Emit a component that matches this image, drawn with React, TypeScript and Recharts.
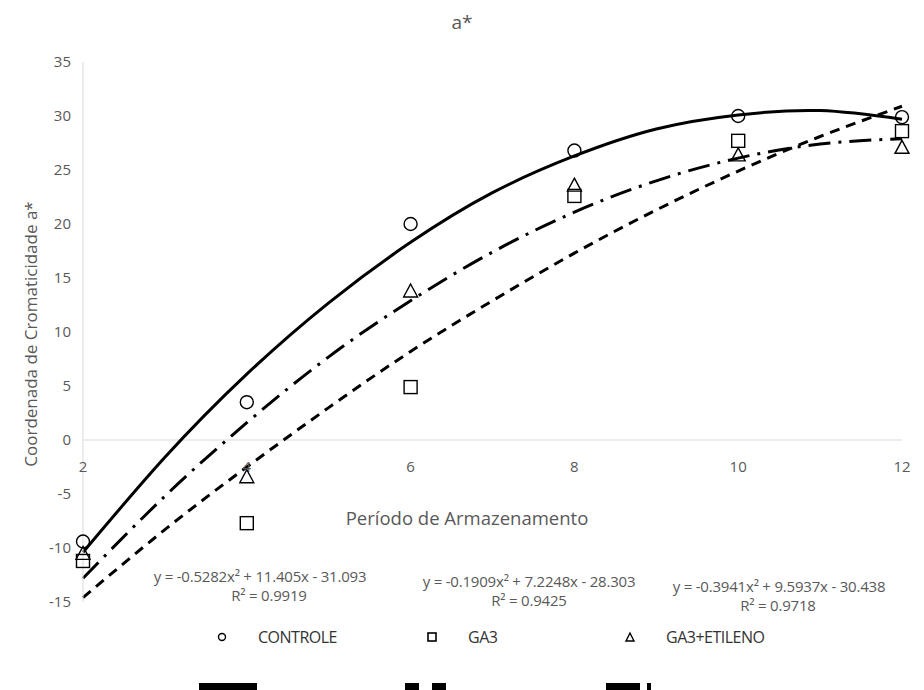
import React from 'react';
import { ComposedChart, Line, Scatter, XAxis, YAxis, ReferenceLine } from 'recharts';

// Observed data (x = storage period)
const periods = [2, 4, 6, 8, 10, 12];
const controle = [-9.4, 3.5, 20.0, 26.8, 30.0, 29.9];
const ga3 = [-11.2, -7.7, 4.9, 22.6, 27.7, 28.6];
const ga3Etileno = [-10.5, -3.4, 13.8, 23.6, 26.4, 27.1];

// Trend lines
const trendX = [2, 3, 4, 5, 6, 7, 8, 9, 10, 11, 12];
const controleTrend = [-10.4, -1.6, 6.1, 12.7, 18.3, 22.9, 26.3, 28.8, 30.1, 30.5, 29.7];
const ga3Trend = [-14.6, -8.3, -2.5, 3.0, 8.2, 12.9, 17.3, 21.3, 24.9, 28.1, 30.9];
const etilenoTrend = [-12.8, -5.2, 1.6, 7.7, 12.9, 17.4, 21.1, 24.0, 26.1, 27.4, 27.9];

const seriesNames = ['CONTROLE', 'GA3', 'GA3+ETILENO'];
const equations = [
  'y = -0.5282x² + 11.405x - 31.093',
  'y = -0.1909x² + 7.2248x - 28.303',
  'y = -0.3941x² + 9.5937x - 30.438',
];
const rSquared = ['R² = 0.9919', 'R² = 0.9425', 'R² = 0.9718'];
const xTicks = [2, 4, 6, 8, 10, 12];
const yTicks = [-15, -10, -5, 0, 5, 10, 15, 20, 25, 30, 35];

const title = 'a*';
const xTitle = 'Período de Armazenamento';
const yTitle = 'Coordenada de Cromaticidade a*';

const pts = (xs: number[], ys: number[]) => xs.map((x, i) => ({ x, y: ys[i] }));

const GRAY = '#595959';
const FONT = '"Open Sans", sans-serif';

const CircleShape = (p: any) => (
  <circle cx={p.cx} cy={p.cy} r={6.5} fill="none" stroke="#000" strokeWidth={1.4} />
);
const SquareShape = (p: any) => (
  <rect x={p.cx - 6.5} y={p.cy - 6.5} width={13} height={13} fill="none" stroke="#000" strokeWidth={1.4} />
);
const TriangleShape = (p: any) => (
  <path
    d={`M${p.cx},${p.cy - 7} L${p.cx + 7},${p.cy + 6} L${p.cx - 7},${p.cy + 6} Z`}
    fill="none"
    stroke="#000"
    strokeWidth={1.4}
  />
);
const XTickShape = (p: any) => (
  <text x={p.cx} y={p.cy + 32} textAnchor="middle" fill={GRAY} fontSize={15} fontFamily={FONT}>
    {p.payload.x}
  </text>
);

const YTitle = () => (
  <text
    x={30}
    y={334}
    transform="rotate(-90 30 334)"
    textAnchor="middle"
    dominantBaseline="central"
    fill={GRAY}
    fontSize={17}
    fontFamily={FONT}
  >
    {yTitle}
  </text>
);

const dashes = ['', '10 7', '22 8 3 8'];
const shapes = [CircleShape, SquareShape, TriangleShape];
const legendIcons = [
  <circle cx={6} cy={6} r={3.5} fill="none" stroke="#000" strokeWidth={1.4} />,
  <rect x={2} y={2} width={8} height={8} fill="none" stroke="#000" strokeWidth={1.6} />,
  <path d="M6,2 L10,10 L2,10 Z" fill="none" stroke="#000" strokeWidth={1.4} />,
];
const legendLeft = [216, 426, 624];

export default function App() {
  const observed = [pts(periods, controle), pts(periods, ga3), pts(periods, ga3Etileno)];
  const trends = [pts(trendX, controleTrend), pts(trendX, ga3Trend), pts(trendX, etilenoTrend)];
  const eqPos = [
    { x: 260, y: 576, rx: 269, ry: 595 },
    { x: 529, y: 581, rx: 529, ry: 600 },
    { x: 779, y: 586, rx: 778, ry: 605 },
  ];
  const eqStyle = {
    position: 'absolute' as const,
    width: 300,
    textAlign: 'center' as const,
    fontSize: 15,
    color: GRAY,
    lineHeight: '15px',
    height: 15,
    whiteSpace: 'nowrap' as const,
    letterSpacing: -0.2,
  };
  return (
    <div style={{ position: 'absolute', left: 0, top: 0, width: 924, height: 690, background: '#fff', overflow: 'hidden', fontFamily: FONT }}>
      <ComposedChart width={924} height={690} margin={{ top: 62, right: 22, bottom: 88, left: 0 }}>
        <XAxis type="number" dataKey="x" domain={[2, 12]} ticks={xTicks} hide allowDuplicatedCategory={false} />
        <YAxis
          type="number"
          dataKey="y"
          domain={[-15, 35]}
          ticks={yTicks}
          width={83}
          axisLine={{ stroke: '#d9d9d9' }}
          tickLine={false}
          tickMargin={6}
          tick={{ fill: GRAY, fontSize: 15, fontFamily: FONT }}
          label={<YTitle />}
        />
        <ReferenceLine y={0} stroke="#d9d9d9" strokeWidth={1} />
        <Scatter data={xTicks.map((x) => ({ x, y: 0 }))} shape={XTickShape} isAnimationActive={false} legendType="none" />
        {trends.map((d, i) => (
          <Line
            key={'t' + i}
            data={d}
            dataKey="y"
            type="natural"
            stroke="#000"
            strokeWidth={3}
            strokeDasharray={dashes[i] || undefined}
            dot={false}
            activeDot={false}
            isAnimationActive={false}
            legendType="none"
          />
        ))}
        {observed.map((d, i) => (
          <Scatter key={'s' + i} name={seriesNames[i]} data={d} shape={shapes[i]} isAnimationActive={false} />
        ))}
      </ComposedChart>

      <div style={{ position: 'absolute', left: 0, width: 924, top: 10, textAlign: 'center', fontSize: 19, color: GRAY, lineHeight: '24px' }}>
        {title}
      </div>
      <div style={{ position: 'absolute', left: 467 - 200, width: 400, top: 506, textAlign: 'center', fontSize: 18.5, color: GRAY, lineHeight: '24px' }}>
        {xTitle}
      </div>
      {equations.map((e, i) => (
        <React.Fragment key={'e' + i}>
          <div style={{ ...eqStyle, left: eqPos[i].x - 150, top: eqPos[i].y - 7.5 }}>{e}</div>
          <div style={{ ...eqStyle, left: eqPos[i].rx - 150, top: eqPos[i].ry - 7.5 }}>{rSquared[i]}</div>
        </React.Fragment>
      ))}
      {seriesNames.map((n, i) => (
        <div key={'l' + i} style={{ position: 'absolute', left: legendLeft[i], top: 627, display: 'flex', alignItems: 'center', height: 20 }}>
          <svg width={12} height={12}>{legendIcons[i]}</svg>
          <span style={{ marginLeft: 30, fontSize: 16, color: '#333', letterSpacing: -0.5 }}>{n}</span>
        </div>
      ))}
      <svg style={{ position: 'absolute', left: 0, top: 676 }} width={924} height={14}>
        <line x1={199} x2={257} y1={14} y2={14} stroke="#000" strokeWidth={14} />
        <line x1={405} x2={446} y1={14} y2={14} stroke="#000" strokeWidth={14} strokeDasharray="14 13" />
        <line x1={606} x2={651} y1={14} y2={14} stroke="#000" strokeWidth={14} strokeDasharray="34 7 4 20" />
      </svg>
    </div>
  );
}
